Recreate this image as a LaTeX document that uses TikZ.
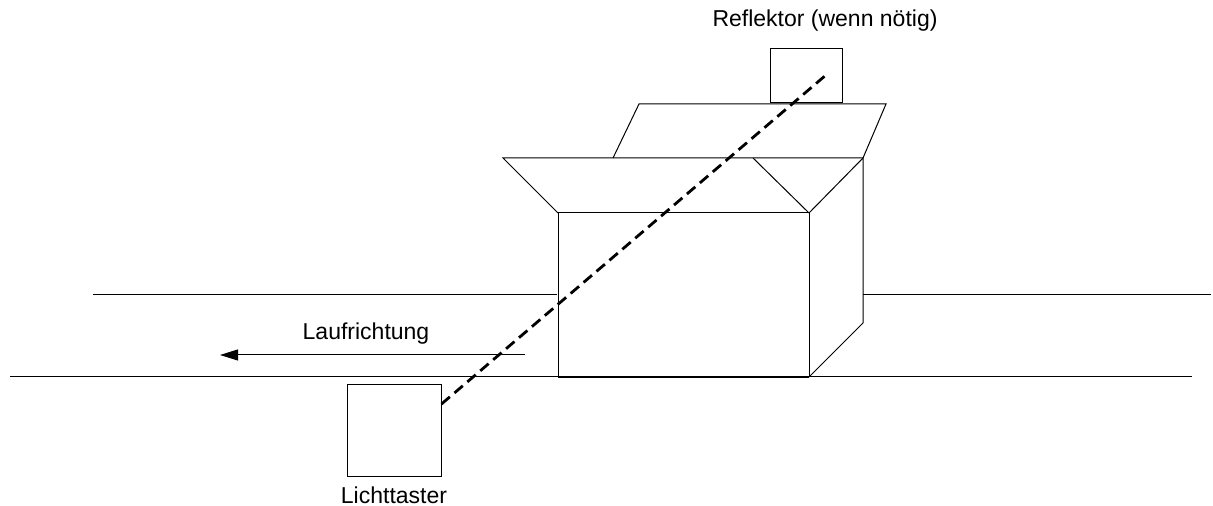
\documentclass[tikz,border=0pt]{standalone}
\usepackage{fontspec}
\setmainfont{Liberation Sans}
\usetikzlibrary{arrows.meta,positioning}

\begin{document}
\begin{tikzpicture}[x=0.5pt,y=-0.5pt,
  lbl/.style={font=\fontsize{11.5}{14}\selectfont,inner sep=0pt},
  sensorbox/.style={draw,line width=0.5pt,inner sep=0pt,minimum width=47pt,minimum height=46pt},
  reflbox/.style={draw,line width=0.5pt,inner sep=0pt,minimum width=36pt,minimum height=27pt},
  edge/.style={line width=0.5pt},
  beam/.style={line width=1.4pt,dash pattern=on 5.5pt off 3pt},
]
\useasboundingbox (0,0) rectangle (1213,506);
% conveyor
\draw[edge] (93,295) -- (557,295);
\draw[edge] (863,295) -- (1211,295);
\draw[edge] (10,377) -- (1192,377);
% carton
\draw[edge] (558,213) rectangle (809,377);
\draw[line width=0.9pt] (558,377) -- (809,377);
\draw[edge] (809,213) -- (863,158) -- (863,323) -- (809,377);
\draw[edge] (558,213) -- (503,158) -- (863,158);
\draw[edge] (753,158) -- (809,213);
\draw[edge] (613,158) -- (639,104) -- (886,104) -- (863,158);
% sensor and reflector
\node[sensorbox] (taster) at (394,431) {};
\node[reflbox,fill=white] (refl) at (806,76) {};
\coordinate (spot) at (826,75);
\draw[beam] ([yshift=13.5pt]taster.east) -- (spot);
% direction of travel
\coordinate (runA) at (525,355);
\coordinate (runB) at (220,355);
\draw[edge,-{Triangle[length=9pt,width=5.5pt]}] (runA) -- (runB);
\node[lbl] (lauf) at (366,334) {Laufrichtung};
\node[lbl] (reflText) at (825,21) {Reflektor (wenn nötig)};
\node[lbl] (tasterText) at (394,495) {Lichttaster};
\end{tikzpicture}
\end{document}
